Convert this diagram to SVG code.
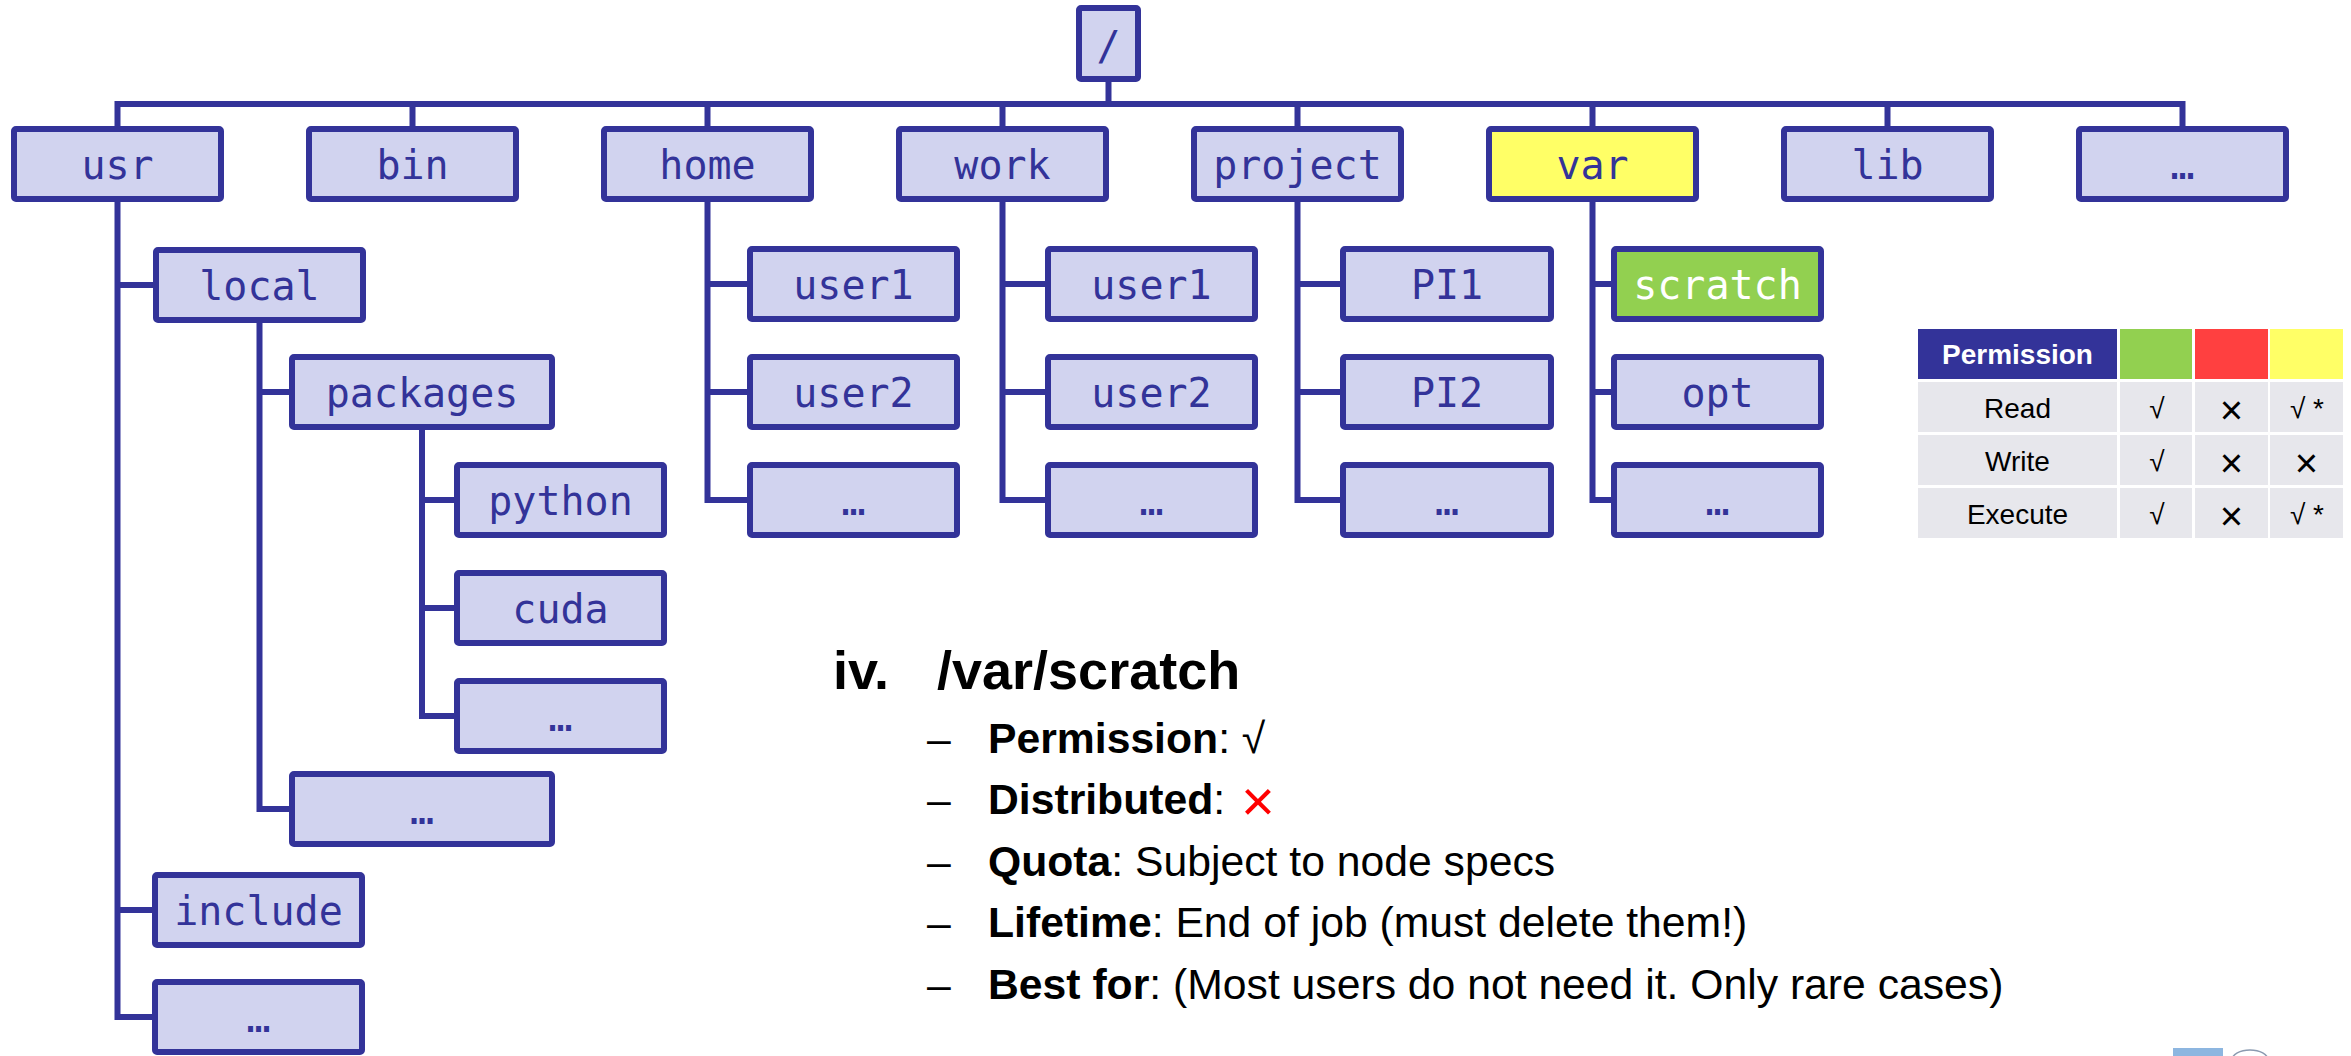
<svg xmlns="http://www.w3.org/2000/svg" width="2351" height="1056" viewBox="0 0 2351 1056">
<style>
.n rect{fill:#D1D3EF;stroke:#333399;stroke-width:6}
.n text{font-family:"DejaVu Sans Mono",monospace;font-size:40px;fill:#333399;text-anchor:middle}
.n.y rect{fill:#FFFF66}
.n.g rect{fill:#92D050}
.n.g text{fill:#FFFFFF}
.c path{fill:none;stroke:#333399;stroke-width:6}
.t text{font-family:"Liberation Sans",Arial,sans-serif;font-size:28px;fill:#000;text-anchor:middle}
.t text.h{fill:#FFFFFF;font-weight:bold}
.t text.x{font-size:40px}
.b text{font-family:"Liberation Sans",Arial,sans-serif;font-size:42.7px;fill:#000}
.b text.hd{font-size:54px;font-weight:bold}
.b text.rx{font-size:58px;fill:#FF0000}
.b .k{font-weight:bold}
</style>
<rect width="2351" height="1056" fill="#FFFFFF"/>

<g class="c" id="connectors">
<path d="M1108.5,82 V104"/>
<path d="M117.5,126 V104 H2182.5 V126"/>
<path d="M412.5,104 V126 M707.5,104 V126 M1002.5,104 V126 M1297.5,104 V126 M1592.5,104 V126 M1887.5,104 V126"/>
<path d="M117.5,202 V1017 H152 M117.5,285 H153 M117.5,910 H152"/>
<path d="M259.5,323 V809 H289 M259.5,392 H289"/>
<path d="M422,430 V716 H454 M422,500 H454 M422,608 H454"/>
<path d="M707.5,202 V500 H747 M707.5,284 H747 M707.5,392 H747"/>
<path d="M1002.5,202 V500 H1045 M1002.5,284 H1045 M1002.5,392 H1045"/>
<path d="M1297.5,202 V500 H1340 M1297.5,284 H1340 M1297.5,392 H1340"/>
<path d="M1592.5,202 V500 H1611 M1592.5,284 H1611 M1592.5,392 H1611"/>
</g>

<g class="n" id="root"><rect x="1079" y="8" width="59" height="71" rx="2"/><text x="1108.5" y="60">/</text></g>

<g class="n" id="usr"><rect x="14" y="129" width="207" height="70" rx="2"/><text x="117.5" y="179">usr</text></g>
<g class="n" id="bin"><rect x="309" y="129" width="207" height="70" rx="2"/><text x="412.5" y="179">bin</text></g>
<g class="n" id="home"><rect x="604" y="129" width="207" height="70" rx="2"/><text x="707.5" y="179">home</text></g>
<g class="n" id="work"><rect x="899" y="129" width="207" height="70" rx="2"/><text x="1002.5" y="179">work</text></g>
<g class="n" id="project"><rect x="1194" y="129" width="207" height="70" rx="2"/><text x="1297.5" y="179">project</text></g>
<g class="n y" id="var"><rect x="1489" y="129" width="207" height="70" rx="2"/><text x="1592.5" y="179">var</text></g>
<g class="n" id="lib"><rect x="1784" y="129" width="207" height="70" rx="2"/><text x="1887.5" y="179">lib</text></g>
<g class="n" id="top-more"><rect x="2079" y="129" width="207" height="70" rx="2"/><text x="2182.5" y="179">…</text></g>

<g class="n" id="usr-local"><rect x="156" y="250" width="207" height="70" rx="2"/><text x="259.5" y="300">local</text></g>
<g class="n" id="usr-local-packages"><rect x="292" y="357" width="260" height="70" rx="2"/><text x="422" y="407">packages</text></g>
<g class="n" id="pkg-python"><rect x="457" y="465" width="207" height="70" rx="2"/><text x="560.5" y="515">python</text></g>
<g class="n" id="pkg-cuda"><rect x="457" y="573" width="207" height="70" rx="2"/><text x="560.5" y="623">cuda</text></g>
<g class="n" id="pkg-more"><rect x="457" y="681" width="207" height="70" rx="2"/><text x="560.5" y="731">…</text></g>
<g class="n" id="local-more"><rect x="292" y="774" width="260" height="70" rx="2"/><text x="422" y="824">…</text></g>
<g class="n" id="usr-include"><rect x="155" y="875" width="207" height="70" rx="2"/><text x="258.5" y="925">include</text></g>
<g class="n" id="usr-more"><rect x="155" y="982" width="207" height="70" rx="2"/><text x="258.5" y="1032">…</text></g>

<g class="n" id="home-user1"><rect x="750" y="249" width="207" height="70" rx="2"/><text x="853.5" y="299">user1</text></g>
<g class="n" id="home-user2"><rect x="750" y="357" width="207" height="70" rx="2"/><text x="853.5" y="407">user2</text></g>
<g class="n" id="home-more"><rect x="750" y="465" width="207" height="70" rx="2"/><text x="853.5" y="515">…</text></g>

<g class="n" id="work-user1"><rect x="1048" y="249" width="207" height="70" rx="2"/><text x="1151.5" y="299">user1</text></g>
<g class="n" id="work-user2"><rect x="1048" y="357" width="207" height="70" rx="2"/><text x="1151.5" y="407">user2</text></g>
<g class="n" id="work-more"><rect x="1048" y="465" width="207" height="70" rx="2"/><text x="1151.5" y="515">…</text></g>

<g class="n" id="project-pi1"><rect x="1343" y="249" width="208" height="70" rx="2"/><text x="1447" y="299">PI1</text></g>
<g class="n" id="project-pi2"><rect x="1343" y="357" width="208" height="70" rx="2"/><text x="1447" y="407">PI2</text></g>
<g class="n" id="project-more"><rect x="1343" y="465" width="208" height="70" rx="2"/><text x="1447" y="515">…</text></g>

<g class="n g" id="var-scratch"><rect x="1614" y="249" width="207" height="70" rx="2"/><text x="1717.5" y="299">scratch</text></g>
<g class="n" id="var-opt"><rect x="1614" y="357" width="207" height="70" rx="2"/><text x="1717.5" y="407">opt</text></g>
<g class="n" id="var-more"><rect x="1614" y="465" width="207" height="70" rx="2"/><text x="1717.5" y="515">…</text></g>

<g class="t" id="permission-table">
<rect x="1918" y="329" width="199" height="50" fill="#333399"/>
<rect x="2120" y="329" width="72" height="50" fill="#92D050"/>
<rect x="2195" y="329" width="73" height="50" fill="#FF4040"/>
<rect x="2270" y="329" width="73" height="50" fill="#FFFF66"/>
<g fill="#E7E7EC">
<rect x="1918" y="382" width="199" height="50"/><rect x="2120" y="382" width="72" height="50"/><rect x="2195" y="382" width="73" height="50"/><rect x="2270" y="382" width="73" height="50"/>
<rect x="1918" y="435" width="199" height="50"/><rect x="2120" y="435" width="72" height="50"/><rect x="2195" y="435" width="73" height="50"/><rect x="2270" y="435" width="73" height="50"/>
<rect x="1918" y="488" width="199" height="50"/><rect x="2120" y="488" width="72" height="50"/><rect x="2195" y="488" width="73" height="50"/><rect x="2270" y="488" width="73" height="50"/>
</g>
<text class="h" x="2017.5" y="364">Permission</text>
<text x="2017.5" y="418">Read</text>
<text x="2017.5" y="471">Write</text>
<text x="2017.5" y="524">Execute</text>
<text x="2157" y="418">√</text><text class="x" x="2231.5" y="424">×</text><text x="2307" y="418">√ *</text>
<text x="2157" y="471">√</text><text class="x" x="2231.5" y="477">×</text><text class="x" x="2306.5" y="477">×</text>
<text x="2157" y="524">√</text><text class="x" x="2231.5" y="530">×</text><text x="2307" y="524">√ *</text>
</g>

<g class="b" id="notes">
<text class="hd" x="833" y="689">iv.</text>
<text class="hd" x="937" y="689">/var/scratch</text>
<text x="927" y="753">–</text><text x="988" y="753"><tspan class="k">Permission</tspan>: √</text>
<text x="927" y="814">–</text><text x="988" y="814"><tspan class="k">Distributed</tspan>: </text>
<text class="rx" x="1241" y="821">×</text>
<text x="927" y="876">–</text><text x="988" y="876"><tspan class="k">Quota</tspan>: Subject to node specs</text>
<text x="927" y="937">–</text><text x="988" y="937"><tspan class="k">Lifetime</tspan>: End of job (must delete them!)</text>
<text x="927" y="999">–</text><text x="988" y="999"><tspan class="k">Best for</tspan>: (Most users do not need it. Only rare cases)</text>
</g>

<g id="logo-fragment">
<rect x="2173" y="1048" width="50" height="8" fill="#8DB6E0"/>
<path d="M2232,1060 A18,10 0 0 1 2268,1060" fill="none" stroke="#8A9AB0" stroke-width="1.5"/>
</g>
</svg>
